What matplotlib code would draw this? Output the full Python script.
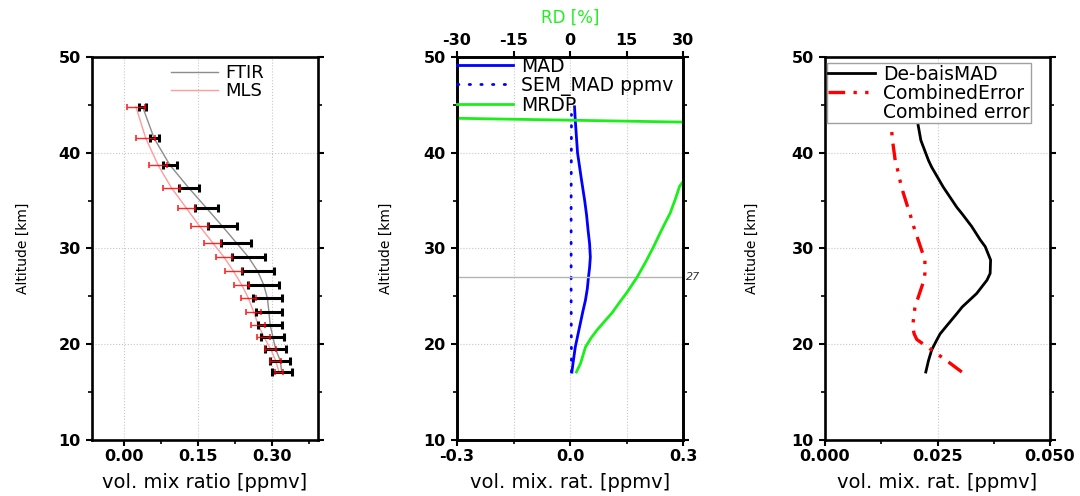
import numpy as np
import matplotlib
matplotlib.use('Agg')
import matplotlib.pyplot as plt
from matplotlib.ticker import MultipleLocator

plt.rcParams['axes.unicode_minus'] = False

# Panel 1: FTIR vs MLS profiles (errorbar centres and half widths)
alt_pts = [44.8, 41.5, 38.7, 36.3, 34.2, 32.3, 30.6, 29.1, 27.6, 26.2,
           24.8, 23.4, 22.0, 20.8, 19.5, 18.3, 17.1]
ftir = [0.0385, 0.062, 0.094, 0.1325, 0.1685, 0.2005, 0.2285, 0.253, 0.272, 0.284,
        0.2915, 0.2945, 0.297, 0.3025, 0.308, 0.3175, 0.3205]
ftir_err = [0.0065, 0.009, 0.014, 0.0195, 0.0235, 0.0285, 0.0305, 0.033, 0.033, 0.031,
            0.0295, 0.0265, 0.024, 0.0235, 0.022, 0.0205, 0.0205]
mls = [0.025, 0.045, 0.070, 0.0975, 0.1275, 0.1545, 0.1805, 0.2035, 0.223, 0.2395,
       0.253, 0.2635, 0.273, 0.284, 0.298, 0.308, 0.315]
mls_err = [0.019, 0.019, 0.019, 0.0175, 0.0175, 0.0175, 0.0175, 0.0165, 0.017, 0.0155,
           0.015, 0.0145, 0.014, 0.013, 0.011, 0.011, 0.009]

# Panel 2: MAD, SEM_MAD (ppmv) and MRDP (%)
alt_mad = [17.1, 18.3, 19.7, 21.0, 22.1, 23.4, 24.6, 25.8, 27.0, 28.0, 29.1, 30.5,
           31.9, 33.5, 35.0, 37.3, 40.0, 43.4, 44.8]
mad = [0.005, 0.009, 0.014, 0.021, 0.027, 0.034, 0.041, 0.046, 0.049, 0.052, 0.054, 0.052,
       0.048, 0.044, 0.039, 0.030, 0.020, 0.014, 0.012]
alt_sem = [17.1, 25.0, 35.0, 44.0]
sem_mad = [0.004, 0.003, 0.003, 0.004]
alt_rd = [17.1, 18.0, 19.7, 20.6, 21.5, 22.4, 23.3, 24.4, 25.4, 27.0, 28.6, 30.2, 32.0,
          33.7, 35.2, 36.5, 37.5, 40.0, 43.0, 43.8, 44.8]
mrdp = [1.7, 2.8, 4.1, 5.5, 7.2, 9.2, 11.2, 13.2, 15.1, 17.8, 20.1, 22.2, 24.4,
        26.6, 28.0, 29.1, 31.0, 45.0, 60.0, -60.0, -80.0]

# Panel 3: de-biased MAD and combined error
alt_err = [17.1, 18.3, 19.4, 20.5, 21.1, 21.9, 23.2, 23.9, 25.3, 26.7, 27.4, 28.8,
           30.2, 30.9, 32.3, 33.6, 34.3, 36.4, 38.5, 39.2, 41.3, 43.4, 44.8]
debias_mad = [0.0224, 0.0230, 0.0237, 0.0249, 0.0256, 0.0270, 0.0293, 0.0305, 0.0337, 0.0360,
              0.0367, 0.0368, 0.0356, 0.0345, 0.0326, 0.0305, 0.0293, 0.0263, 0.0237, 0.0230,
              0.0213, 0.0205, 0.0203]
comb_err = [0.0304, 0.0270, 0.0237, 0.0204, 0.0198, 0.0195, 0.0198, 0.0200, 0.0210, 0.0220,
            0.0222, 0.0222, 0.0212, 0.0207, 0.0197, 0.0189, 0.0184, 0.0170, 0.0160, 0.0156,
            0.0150, 0.0146, 0.0143]

W, H = 1080, 496
fig = plt.figure(figsize=(W / 100, H / 100), dpi=100)

def px_axes(x0, x1, top=57, bottom=440):
    return fig.add_axes([x0 / W, 1 - bottom / H, (x1 - x0) / W, (bottom - top) / H])

def style_axes(ax, ylabel_x):
    for s in ax.spines.values():
        s.set_linewidth(1.9)
    ax.set_ylim(10, 50)
    ax.yaxis.set_major_locator(MultipleLocator(10))
    ax.yaxis.set_minor_locator(MultipleLocator(5))
    ax.tick_params(which='both', direction='out', left=True, right=True, bottom=True, top=False,
                   labelright=False)
    ax.tick_params(which='major', length=4.5, width=1.5, labelsize=11.5)
    ax.tick_params(axis='x', which='major', pad=2)
    ax.tick_params(which='minor', length=3, width=1.2)
    for lab in ax.get_xticklabels() + ax.get_yticklabels():
        lab.set_fontweight('bold')
    ax.grid(True, which='major', linestyle=':', color='#c8c8c8', linewidth=0.8)
    ax.set_ylabel('Altitude [km]', fontsize=10)
    ax.yaxis.set_label_coords(ylabel_x, 0.5)
    ax.xaxis.set_label_coords(0.5, -0.085)

# ---- left panel
ax1 = px_axes(92, 318)
ax1.plot(ftir, alt_pts, color='#8c8c8c', lw=1.0, label='FTIR')
ax1.plot(mls, alt_pts, color='#ff9c9c', lw=1.0, label='MLS')
ax1.errorbar(ftir, alt_pts, xerr=ftir_err, fmt='none', ecolor='black', elinewidth=2.2,
             capsize=3, capthick=2.2)
ax1.errorbar(mls, alt_pts, xerr=mls_err, fmt='none', ecolor='red', elinewidth=1.0,
             capsize=2.5, capthick=1.2, alpha=0.85)
ax1.set_xlim(-0.064, 0.394)
ax1.set_xticks([0.0, 0.15, 0.30])
ax1.set_xticklabels(['0.00', '0.15', '0.30'])
ax1.xaxis.set_minor_locator(MultipleLocator(0.075))
ax1.set_xlabel('vol. mix ratio [ppmv]', fontsize=14)
style_axes(ax1, -0.277)
ax1.legend(loc='upper left', bbox_to_anchor=(0.30, 1.01), frameon=False, fontsize=13,
           handlelength=2.6, handletextpad=0.4, labelspacing=0.0, borderpad=0.1)

# ---- middle panel
ax2 = px_axes(457, 683)
l_mad, = ax2.plot(mad, alt_mad, color='#0000ff', lw=2.0, label='MAD')
l_sem, = ax2.plot(sem_mad, alt_sem, color='#0000ff', lw=2.0, linestyle=(0, (0.5, 3.7)),
                  dash_capstyle='round', label='SEM_MAD ppmv')
ax2.axhline(27, color='#b4b4b4', lw=1.0)
ax2.text(1.012, (27 - 10) / 40, '27', transform=ax2.transAxes, fontsize=8, style='italic',
         color='#333333', va='center', ha='left')
ax2.set_xlim(-0.3, 0.3)
ax2.set_xticks([-0.3, 0.0, 0.3])
ax2.set_xticklabels(['-0.3', '0.0', '0.3'])
ax2.xaxis.set_minor_locator(MultipleLocator(0.15))
ax2.set_xlabel('vol. mix. rat. [ppmv]', fontsize=14)
style_axes(ax2, -0.286)
ax2.grid(True, which='minor', axis='x', linestyle=':', color='#c8c8c8', linewidth=0.8)

ax2t = ax2.twiny()
l_rd, = ax2t.plot(mrdp, alt_rd, color='#19f019', lw=2.0, label='MRDP')
ax2t.set_xlim(-30, 30)
ax2t.set_xticks([-30, -15, 0, 15, 30])
ax2t.tick_params(axis='x', which='major', direction='out', length=4.5, width=1.5,
                 labelsize=11.5, pad=2)
for lab in ax2t.get_xticklabels():
    lab.set_fontweight('bold')
for s in ax2t.spines.values():
    s.set_linewidth(1.9)
ax2t.set_xlabel('RD [%]', fontsize=12, color='#22ee22')
ax2t.xaxis.set_label_coords(0.5, 1.09)
ax2t.legend(handles=[l_mad, l_sem, l_rd], loc='upper left', bbox_to_anchor=(0.0, 1.0),
            frameon=False, fontsize=13.5, handlelength=3.0, handletextpad=0.4,
            labelspacing=0.0, borderpad=0.0, borderaxespad=0.0)

# ---- right panel
ax3 = px_axes(825, 1050)
ax3.plot(debias_mad, alt_err, color='black', lw=2.0, label='De-baisMAD')
ax3.plot(comb_err, alt_err, color='red', lw=2.4, linestyle=(0, (5, 2.5, 1, 2.5, 1, 2.5)),
         label='CombinedError')
ax3.plot([], [], color='none', label='Combined error')
ax3.set_xlim(0, 0.05)
ax3.set_xticks([0.0, 0.025, 0.05])
ax3.set_xticklabels(['0.000', '0.025', '0.050'])
ax3.xaxis.set_minor_locator(MultipleLocator(0.0125))
ax3.set_xlabel('vol. mix. rat. [ppmv]', fontsize=14)
style_axes(ax3, -0.293)
leg = ax3.legend(loc='upper left', bbox_to_anchor=(0.007, 0.985), fontsize=13.5,
                 handlelength=2.5, handletextpad=0.4, labelspacing=0.0, borderpad=0.1,
                 borderaxespad=0.0, fancybox=False, framealpha=1.0)
leg.get_frame().set_edgecolor('#a0a0a0')
leg.get_frame().set_linewidth(1.0)

fig.savefig('out.png', dpi=100)
